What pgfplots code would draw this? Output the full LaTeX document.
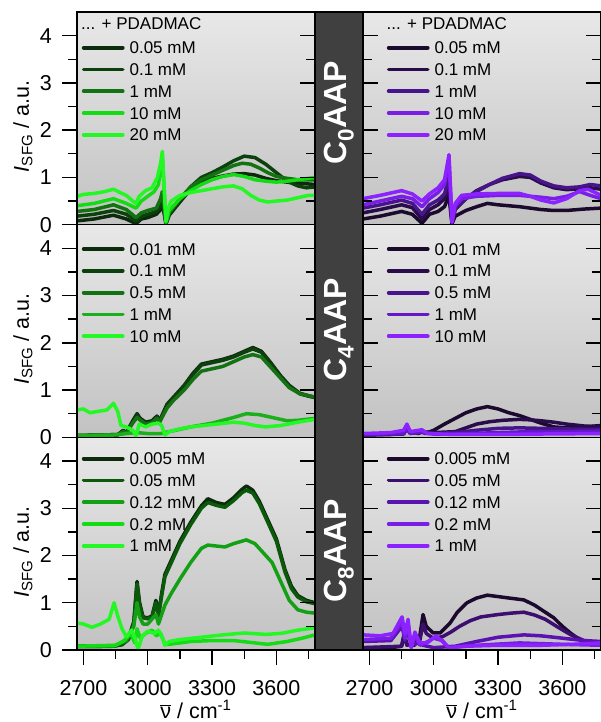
\documentclass[border=0pt]{standalone}
\usepackage{pgfplots}
\pgfplotsset{compat=1.18}
\usepackage{fontspec}
\setmainfont{Liberation Sans}

\definecolor{ga}{HTML}{0C2A0C}
\definecolor{gb}{HTML}{0C400C}
\definecolor{gc}{HTML}{137313}
\definecolor{gd}{HTML}{14DC14}
\definecolor{ge}{HTML}{24F824}
\definecolor{gm}{HTML}{1BB01B}
\definecolor{gb8}{HTML}{0A5A0A}
\definecolor{gc8}{HTML}{14A014}
\definecolor{pa}{HTML}{1C0A2E}
\definecolor{pb}{HTML}{2A0C4C}
\definecolor{pc}{HTML}{48148C}
\definecolor{pd}{HTML}{7A1EE6}
\definecolor{pe}{HTML}{8C22FF}
\definecolor{pm}{HTML}{6418C8}
\definecolor{pb8}{HTML}{3C0E70}
\definecolor{pc8}{HTML}{5A12B0}
\definecolor{stripc}{HTML}{404040}
\definecolor{bgtop}{HTML}{E8E8E8}
\definecolor{bgbot}{HTML}{C2C2C2}

\newcommand{\tickfont}{\fontsize{21.5}{25}\selectfont}
\newcommand{\legfont}{\fontsize{17}{20}\selectfont}

\pgfplotsset{
  panel/.style={
    scale only axis, width=238pt, height=212.67pt,
    xmin=2670, xmax=3780, ymin=0, ymax=4.5,
    xtick={2700,3000,3300,3600}, minor xtick={2850,3150,3450,3750},
    ytick={0,1,2,3,4}, minor ytick={0.5,1.5,2.5,3.5},
    major tick length=15pt, minor tick length=9pt,
    every tick/.style={black, line width=1.4pt},
    axis line style={black, line width=1.4pt},
    /pgf/number format/assume math mode=true,
    /pgf/number format/1000 sep={},
    tick label style={font=\tickfont},
    xticklabel style={anchor=base, yshift=-30pt},
    yticklabel style={anchor=east, inner sep=0pt, xshift=-10pt},
  },
  main/.style={panel, tick align=outside, xtick pos=bottom, ytick pos=left,
    axis background/.style={top color=bgtop, bottom color=bgbot},
    legend cell align=left,
    legend style={draw=none, fill=none, inner sep=0pt, outer sep=0pt, font=\legfont,
      at={(axis description cs:0,1)}, anchor=north west, row sep=9.8pt,
      nodes={inner sep=0pt, text height=12pt, text depth=0pt},
      /tikz/every odd column/.append style={column sep=5pt}},
    legend image code/.code={\draw[##1, line width=3.8pt, line cap=round] (0pt,0pt) -- (39pt,0pt);},
    ylabel style={font=\tickfont, at={(axis description cs:-0.2017,0.462)}, anchor=base},
    xlabel style={font=\tickfont, at={(axis description cs:0.5,-0.32)}, anchor=base},
  },
  over/.style={panel, tick align=inside, xtick=\empty, minor xtick=\empty, yticklabels={}},
  dl/.style={line width=3.5pt, line join=round},
}

\begin{document}
\begin{tikzpicture}[x=1pt,y=1pt]
\useasboundingbox (0,0) rectangle (601,722);
\fill[stripc, draw=black, line width=1.4pt] (315,72) rectangle (363,710);

%%%%%%%%%%%%%%%% TOP LEFT: C0AAP green
\begin{axis}[main, at={(77pt,497.33pt)}, xticklabels={},
  ylabel={{\itshape I}\textsubscript{SFG} / a.u.},
  legend style={xshift=4.8pt, yshift=-29.7pt}]
\addplot[ga, dl] coordinates {(2670,0.08) (2750,0.12) (2840,0.20) (2900,0.12) (2945,0.02) (2970,0.12) (3000,0.15) (3040,0.22) (3060,0.32) (3068,0.40) (3076,0.25) (3085,0.02) (3100,0.20) (3150,0.48) (3200,0.75) (3250,0.90) (3300,0.98) (3350,1.03) (3400,1.07) (3450,1.08) (3500,1.05) (3550,0.98) (3600,0.93) (3650,0.90) (3700,0.88) (3780,0.85)};
\addlegendentry{0.05 mM}
\addplot[gb, dl] coordinates {(2670,0.18) (2750,0.22) (2840,0.30) (2900,0.22) (2945,0.08) (2970,0.18) (3000,0.22) (3040,0.28) (3060,0.40) (3068,0.50) (3076,0.30) (3085,0.02) (3100,0.22) (3150,0.50) (3200,0.80) (3250,1.00) (3300,1.10) (3350,1.22) (3400,1.35) (3450,1.45) (3500,1.42) (3550,1.28) (3600,1.10) (3650,0.92) (3700,0.82) (3740,0.78) (3780,0.80)};
\addlegendentry{0.1 mM}
\addplot[gc, dl] coordinates {(2670,0.28) (2750,0.32) (2840,0.42) (2900,0.32) (2945,0.15) (2970,0.25) (3000,0.30) (3040,0.35) (3060,0.55) (3068,0.70) (3076,0.40) (3085,0.03) (3100,0.25) (3150,0.55) (3200,0.80) (3250,0.95) (3300,1.05) (3350,1.15) (3400,1.25) (3440,1.30) (3480,1.28) (3520,1.20) (3560,1.10) (3600,1.02) (3650,0.98) (3700,0.95) (3780,0.95)};
\addlegendentry{1 mM}
\addplot[gd, dl] coordinates {(2670,0.40) (2750,0.45) (2840,0.55) (2900,0.45) (2945,0.35) (2970,0.50) (3000,0.60) (3030,0.70) (3050,0.85) (3062,1.25) (3068,1.45) (3076,0.80) (3085,0.05) (3100,0.30) (3150,0.55) (3200,0.72) (3250,0.85) (3300,0.95) (3350,1.02) (3400,1.06) (3450,1.02) (3500,0.95) (3550,0.92) (3600,0.90) (3650,0.92) (3700,0.95) (3780,1.00)};
\addlegendentry{10 mM}
\addplot[ge, dl] coordinates {(2670,0.60) (2700,0.64) (2750,0.66) (2800,0.70) (2840,0.75) (2870,0.68) (2900,0.62) (2930,0.50) (2945,0.45) (2960,0.60) (2990,0.72) (3020,0.78) (3045,1.00) (3060,1.30) (3068,1.55) (3075,0.90) (3085,0.08) (3095,0.35) (3110,0.50) (3150,0.62) (3200,0.68) (3250,0.72) (3300,0.76) (3350,0.80) (3400,0.82) (3440,0.76) (3480,0.62) (3520,0.52) (3560,0.48) (3600,0.50) (3650,0.52) (3700,0.57) (3750,0.62) (3780,0.62)};
\addlegendentry{20 mM}
\node[anchor=base west, font=\legfont, inner sep=0pt, xshift=4pt, yshift=-17.3pt] at (axis description cs:0,1) {... + PDADMAC};
\end{axis}
\begin{axis}[over, at={(77pt,497.33pt)}, ytick pos=right]\end{axis}

%%%%%%%%%%%%%%%% TOP RIGHT: C0AAP purple
\begin{axis}[main, at={(363pt,497.33pt)}, xticklabels={}, ytick=\empty, minor ytick=\empty,
  legend style={xshift=23.8pt, yshift=-29.7pt}]
\addplot[pa, dl] coordinates {(2670,0.12) (2750,0.18) (2850,0.28) (2900,0.22) (2945,0.03) (2980,0.22) (3020,0.28) (3050,0.38) (3065,0.55) (3071,0.62) (3078,0.30) (3085,0.02) (3100,0.18) (3150,0.30) (3200,0.38) (3250,0.45) (3300,0.42) (3400,0.38) (3500,0.32) (3560,0.30) (3620,0.30) (3700,0.33) (3780,0.35)};
\addlegendentry{0.05 mM}
\addplot[pb, dl] coordinates {(2670,0.25) (2750,0.32) (2850,0.42) (2900,0.36) (2945,0.12) (2980,0.32) (3020,0.42) (3050,0.55) (3065,0.75) (3071,0.85) (3078,0.45) (3085,0.03) (3100,0.32) (3150,0.55) (3200,0.72) (3260,0.85) (3320,0.95) (3400,1.02) (3450,1.00) (3500,0.88) (3560,0.78) (3620,0.74) (3680,0.76) (3730,0.78) (3780,0.75)};
\addlegendentry{0.1 mM}
\addplot[pc, dl] coordinates {(2670,0.35) (2750,0.42) (2850,0.52) (2900,0.45) (2945,0.22) (2980,0.42) (3020,0.52) (3050,0.65) (3065,0.90) (3071,1.00) (3078,0.55) (3085,0.05) (3100,0.35) (3150,0.55) (3200,0.70) (3260,0.85) (3320,0.98) (3400,1.08) (3450,1.05) (3500,0.92) (3560,0.82) (3620,0.78) (3680,0.80) (3730,0.85) (3780,0.82)};
\addlegendentry{1 mM}
\addplot[pd, dl] coordinates {(2670,0.42) (2750,0.50) (2850,0.60) (2900,0.55) (2945,0.38) (2980,0.55) (3020,0.68) (3050,0.85) (3065,1.20) (3071,1.35) (3078,0.70) (3085,0.05) (3100,0.40) (3130,0.55) (3200,0.60) (3300,0.62) (3400,0.62) (3500,0.58) (3560,0.55) (3620,0.60) (3680,0.70) (3730,0.62) (3780,0.55)};
\addlegendentry{10 mM}
\addplot[pe, dl] coordinates {(2670,0.55) (2750,0.62) (2850,0.72) (2900,0.65) (2945,0.50) (2980,0.65) (3020,0.78) (3050,0.95) (3062,1.25) (3071,1.48) (3078,0.80) (3085,0.05) (3100,0.45) (3130,0.62) (3200,0.65) (3300,0.66) (3400,0.66) (3450,0.60) (3500,0.52) (3560,0.46) (3620,0.55) (3680,0.72) (3720,0.75) (3780,0.62)};
\addlegendentry{20 mM}
\node[anchor=base west, font=\legfont, inner sep=0pt, xshift=23.5pt, yshift=-17.3pt] at (axis description cs:0,1) {... + PDADMAC};
\end{axis}
\begin{axis}[over, at={(363pt,497.33pt)}, ytick pos=both]\end{axis}

%%%%%%%%%%%%%%%% MIDDLE LEFT: C4AAP green
\begin{axis}[main, at={(77pt,284.67pt)}, xticklabels={},
  ylabel={{\itshape I}\textsubscript{SFG} / a.u.},
  legend style={xshift=4.8pt, yshift=-18.4pt}]
\addplot[ga, dl] coordinates {(2670,0.03) (2800,0.04) (2860,0.05) (2885,0.15) (2900,0.10) (2930,0.35) (2950,0.50) (2965,0.40) (2990,0.32) (3020,0.35) (3043,0.45) (3055,0.35) (3070,0.50) (3090,0.70) (3120,0.85) (3170,1.10) (3210,1.35) (3250,1.55) (3300,1.60) (3350,1.65) (3400,1.72) (3450,1.82) (3490,1.90) (3530,1.82) (3570,1.60) (3620,1.30) (3660,1.10) (3710,0.93) (3750,0.88) (3780,0.85)};
\addlegendentry{0.01 mM}
\addplot[gb, dl] coordinates {(2670,0.04) (2800,0.05) (2860,0.06) (2885,0.13) (2900,0.09) (2930,0.32) (2950,0.47) (2965,0.38) (2990,0.30) (3020,0.33) (3043,0.43) (3055,0.33) (3070,0.48) (3090,0.68) (3120,0.83) (3170,1.08) (3210,1.32) (3250,1.53) (3300,1.58) (3350,1.63) (3400,1.70) (3450,1.80) (3490,1.87) (3530,1.80) (3570,1.58) (3620,1.28) (3660,1.08) (3710,0.92) (3750,0.87) (3780,0.84)};
\addlegendentry{0.1 mM}
\addplot[gc, dl] coordinates {(2670,0.04) (2800,0.05) (2860,0.06) (2885,0.12) (2900,0.09) (2930,0.30) (2950,0.42) (2965,0.36) (2990,0.28) (3020,0.31) (3043,0.40) (3055,0.32) (3070,0.45) (3090,0.62) (3120,0.78) (3170,1.00) (3210,1.22) (3250,1.40) (3300,1.45) (3350,1.50) (3400,1.60) (3450,1.70) (3490,1.75) (3530,1.70) (3570,1.50) (3620,1.25) (3660,1.05) (3710,0.92) (3780,0.85)};
\addlegendentry{0.5 mM}
\addplot[gm, dl] coordinates {(2670,0.03) (2850,0.05) (2900,0.08) (2950,0.10) (3000,0.08) (3060,0.08) (3100,0.12) (3200,0.22) (3300,0.30) (3400,0.42) (3460,0.50) (3520,0.48) (3580,0.42) (3650,0.35) (3700,0.36) (3780,0.40)};
\addlegendentry{1 mM}
\addplot[ge, dl] coordinates {(2670,0.58) (2700,0.60) (2730,0.52) (2770,0.55) (2810,0.58) (2840,0.72) (2860,0.55) (2875,0.25) (2900,0.22) (2930,0.15) (2945,0.03) (2960,0.28) (2990,0.22) (3020,0.28) (3050,0.30) (3065,0.25) (3080,0.05) (3100,0.12) (3150,0.18) (3200,0.22) (3300,0.27) (3400,0.32) (3450,0.30) (3500,0.25) (3550,0.22) (3620,0.25) (3700,0.32) (3780,0.38)};
\addlegendentry{10 mM}
\end{axis}
\begin{axis}[over, at={(77pt,284.67pt)}, ytick pos=right]\end{axis}

%%%%%%%%%%%%%%%% MIDDLE RIGHT: C4AAP purple
\begin{axis}[main, at={(363pt,284.67pt)}, xticklabels={}, ytick=\empty, minor ytick=\empty,
  legend style={xshift=23.8pt, yshift=-18.4pt}]
\addplot[pa, dl] coordinates {(2670,0.05) (2800,0.06) (2860,0.12) (2875,0.25) (2890,0.12) (2930,0.08) (2945,0.15) (2960,0.08) (3000,0.15) (3050,0.28) (3100,0.40) (3150,0.52) (3200,0.60) (3250,0.65) (3300,0.60) (3350,0.52) (3400,0.46) (3450,0.38) (3500,0.30) (3560,0.22) (3620,0.20) (3700,0.22) (3780,0.25)};
\addlegendentry{0.01 mM}
\addplot[pb, dl] coordinates {(2670,0.05) (2860,0.08) (2875,0.22) (2890,0.10) (2945,0.12) (3000,0.10) (3100,0.12) (3150,0.20) (3200,0.28) (3260,0.33) (3320,0.36) (3400,0.38) (3450,0.37) (3500,0.35) (3560,0.32) (3620,0.28) (3700,0.24) (3780,0.22)};
\addlegendentry{0.1 mM}
\addplot[pc, dl] coordinates {(2670,0.05) (2860,0.07) (2875,0.18) (2890,0.08) (2945,0.12) (3000,0.08) (3100,0.10) (3200,0.15) (3300,0.19) (3400,0.20) (3500,0.19) (3600,0.18) (3700,0.17) (3780,0.17)};
\addlegendentry{0.5 mM}
\addplot[pm, dl] coordinates {(2670,0.06) (2860,0.08) (2875,0.20) (2890,0.09) (2945,0.10) (3000,0.07) (3100,0.07) (3300,0.10) (3450,0.12) (3600,0.12) (3780,0.13)};
\addlegendentry{1 mM}
\addplot[pe, dl] coordinates {(2670,0.08) (2800,0.10) (2860,0.15) (2875,0.28) (2890,0.12) (2945,0.16) (2970,0.08) (3100,0.06) (3300,0.06) (3500,0.07) (3780,0.08)};
\addlegendentry{10 mM}
\end{axis}
\begin{axis}[over, at={(363pt,284.67pt)}, ytick pos=both]\end{axis}

%%%%%%%%%%%%%%%% BOTTOM LEFT: C8AAP green
\begin{axis}[main, at={(77pt,72pt)},
  ylabel={{\itshape I}\textsubscript{SFG} / a.u.},
  xlabel={$\overline{\mbox{ν}}$ / cm\textsuperscript{-1}},
  legend style={xshift=4.8pt, yshift=-15.3pt}]
\addplot[ga, dl] coordinates {(2670,0.08) (2750,0.08) (2840,0.08) (2880,0.12) (2910,0.25) (2935,0.60) (2950,1.45) (2962,1.00) (2978,0.70) (3000,0.68) (3020,0.72) (3038,1.05) (3050,0.75) (3065,1.20) (3080,1.60) (3110,1.90) (3150,2.30) (3200,2.70) (3250,3.05) (3280,3.20) (3320,3.12) (3360,3.08) (3400,3.22) (3440,3.40) (3460,3.47) (3490,3.38) (3520,3.15) (3560,2.75) (3600,2.35) (3640,1.70) (3670,1.35) (3700,1.15) (3740,1.05) (3780,1.00)};
\addlegendentry{0.005 mM}
\addplot[gb8, dl] coordinates {(2670,0.07) (2750,0.07) (2840,0.08) (2880,0.11) (2910,0.22) (2935,0.55) (2950,1.40) (2962,0.95) (2978,0.68) (3000,0.66) (3020,0.70) (3038,1.00) (3050,0.72) (3065,1.15) (3080,1.55) (3110,1.85) (3150,2.25) (3200,2.65) (3250,3.00) (3280,3.12) (3320,3.06) (3360,3.02) (3400,3.16) (3440,3.33) (3460,3.38) (3490,3.32) (3520,3.10) (3560,2.70) (3600,2.30) (3640,1.65) (3670,1.30) (3700,1.12) (3740,1.02) (3780,0.98)};
\addlegendentry{0.05 mM}
\addplot[gc8, dl] coordinates {(2670,0.08) (2840,0.08) (2900,0.20) (2935,0.50) (2950,1.00) (2962,0.70) (2978,0.55) (3000,0.55) (3038,0.75) (3050,0.55) (3065,0.75) (3080,0.95) (3110,1.20) (3150,1.50) (3200,1.85) (3250,2.15) (3280,2.22) (3320,2.20) (3360,2.18) (3400,2.25) (3460,2.33) (3500,2.25) (3540,2.05) (3580,1.85) (3620,1.45) (3660,1.05) (3700,0.85) (3740,0.80) (3780,0.78)};
\addlegendentry{0.12 mM}
\addplot[gd, dl] coordinates {(2670,0.08) (2850,0.10) (2890,0.20) (2920,0.35) (2940,0.15) (2950,0.45) (2965,0.25) (2990,0.35) (3020,0.42) (3040,0.30) (3060,0.35) (3080,0.12) (3100,0.12) (3200,0.18) (3300,0.20) (3400,0.20) (3500,0.15) (3560,0.12) (3650,0.18) (3720,0.25) (3780,0.32)};
\addlegendentry{0.2 mM}
\addplot[ge, dl] coordinates {(2670,0.57) (2700,0.55) (2740,0.48) (2780,0.55) (2820,0.65) (2843,1.00) (2860,0.72) (2880,0.45) (2900,0.28) (2925,0.42) (2940,0.25) (2955,0.02) (2975,0.30) (3000,0.40) (3030,0.35) (3050,0.42) (3065,0.30) (3080,0.10) (3100,0.18) (3150,0.22) (3250,0.27) (3350,0.32) (3450,0.36) (3550,0.33) (3620,0.35) (3700,0.42) (3780,0.47)};
\addlegendentry{1 mM}
\end{axis}
\begin{axis}[over, at={(77pt,72pt)}, ytick pos=right]\end{axis}

%%%%%%%%%%%%%%%% BOTTOM RIGHT: C8AAP purple
\begin{axis}[main, at={(363pt,72pt)}, ytick=\empty, minor ytick=\empty,
  xlabel={$\overline{\mbox{ν}}$ / cm\textsuperscript{-1}},
  legend style={xshift=23.8pt, yshift=-15.3pt}]
\addplot[pa, dl] coordinates {(2670,0.05) (2800,0.05) (2850,0.08) (2862,0.35) (2875,0.12) (2910,0.10) (2935,0.30) (2950,0.75) (2965,0.50) (2997,0.36) (3030,0.36) (3050,0.45) (3076,0.57) (3110,0.80) (3155,1.00) (3200,1.10) (3250,1.16) (3300,1.13) (3350,1.10) (3420,1.06) (3470,0.95) (3520,0.80) (3560,0.68) (3600,0.50) (3640,0.35) (3680,0.22) (3720,0.15) (3780,0.15)};
\addlegendentry{0.005 mM}
\addplot[pb8, dl] coordinates {(2670,0.05) (2850,0.08) (2862,0.30) (2875,0.10) (2935,0.20) (2950,0.55) (2965,0.35) (2997,0.25) (3040,0.28) (3080,0.38) (3120,0.50) (3170,0.62) (3220,0.70) (3300,0.75) (3360,0.78) (3420,0.80) (3470,0.74) (3520,0.65) (3580,0.48) (3640,0.32) (3700,0.20) (3780,0.15)};
\addlegendentry{0.05 mM}
\addplot[pc8, dl] coordinates {(2670,0.18) (2800,0.20) (2852,0.50) (2866,0.20) (2880,0.45) (2895,0.10) (2930,0.15) (2950,0.10) (3000,0.05) (3100,0.08) (3200,0.18) (3300,0.27) (3420,0.32) (3500,0.30) (3600,0.25) (3700,0.20) (3780,0.18)};
\addlegendentry{0.12 mM}
\addplot[pd, dl] coordinates {(2670,0.22) (2800,0.25) (2852,0.60) (2866,0.25) (2880,0.55) (2895,0.05) (2912,0.32) (2935,0.10) (2960,0.15) (3000,0.25) (3040,0.20) (3070,0.05) (3200,0.10) (3400,0.15) (3600,0.12) (3780,0.10)};
\addlegendentry{0.2 mM}
\addplot[pe, dl] coordinates {(2670,0.32) (2750,0.30) (2810,0.35) (2852,0.70) (2866,0.35) (2880,0.65) (2895,0.05) (2912,0.38) (2935,0.15) (2970,0.15) (3010,0.30) (3040,0.18) (3070,0.05) (3150,0.08) (3300,0.10) (3500,0.10) (3650,0.12) (3780,0.15)};
\addlegendentry{1 mM}
\end{axis}
\begin{axis}[over, at={(363pt,72pt)}, ytick pos=both]\end{axis}

%%%%%%%%%%%%%%%% strip labels
\node[rotate=90, text=white, inner sep=0pt, font=\fontsize{32}{36}\selectfont\bfseries] at (339,609) {C\textsubscript{0}AAP};
\node[rotate=90, text=white, inner sep=0pt, font=\fontsize{32}{36}\selectfont\bfseries] at (339,392) {C\textsubscript{4}AAP};
\node[rotate=90, text=white, inner sep=0pt, font=\fontsize{32}{36}\selectfont\bfseries] at (339,171) {C\textsubscript{8}AAP};
\end{tikzpicture}
\end{document}
